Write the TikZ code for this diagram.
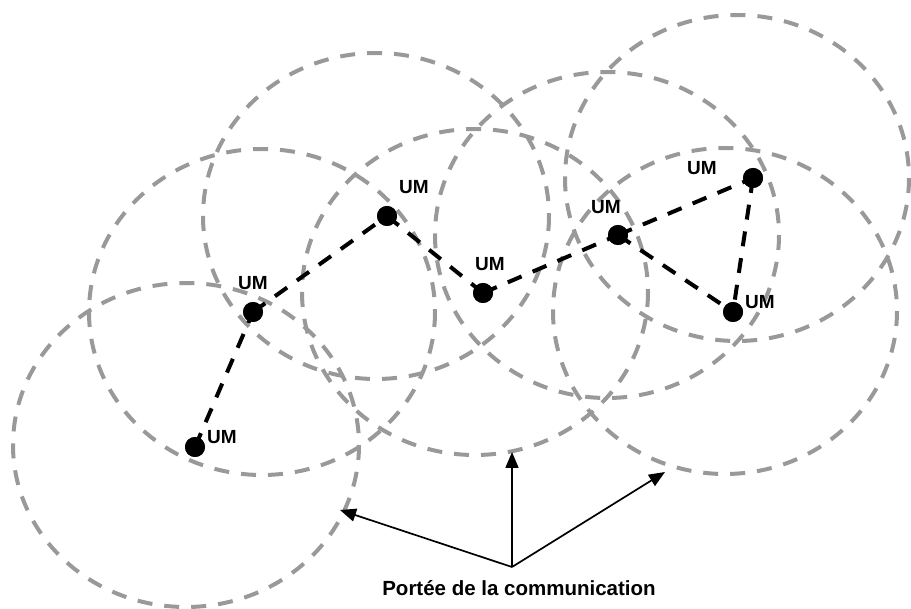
\documentclass[tikz,border=0pt]{standalone}
\usepackage{fontspec}
\setmainfont{Liberation Sans}
\usetikzlibrary{arrows.meta}
\begin{document}
\begin{tikzpicture}[x=1pt,y=-1pt,
  coverage/.style={draw=black!40, line width=4pt, dash pattern=on 15pt off 12pt},
  link/.style={draw=black, line width=4pt, dash pattern=on 15pt off 12pt},
  um/.style={circle, fill=black, minimum size=20pt, inner sep=0pt},
  umlabel/.style={font=\bfseries\fontsize{19}{21}\selectfont, inner sep=0pt},
  pointer/.style={draw=black, line width=1.7pt, -{Triangle[length=16pt,width=13pt]}}]
\useasboundingbox (0,0) rectangle (911,609);

% communication ranges
\draw[coverage] (186,445) ellipse [x radius=173, y radius=162];
\draw[coverage] (262,312) ellipse [x radius=173, y radius=163];
\draw[coverage] (376,216) ellipse [x radius=173, y radius=163];
\draw[coverage] (475,292) ellipse [x radius=173, y radius=163];
\draw[coverage] (607,235) ellipse [x radius=172, y radius=163];
\draw[coverage] (737,178) ellipse [x radius=172, y radius=163];
\draw[coverage] (725,311) ellipse [x radius=172, y radius=163];

% mobile units
\node[um] (a) at (195,447) {};
\node[um] (b) at (253,312) {};
\node[um] (c) at (387,216) {};
\node[um] (d) at (483,293) {};
\node[um] (e) at (618,235) {};
\node[um] (f) at (753,178) {};
\node[um] (g) at (733,312) {};

% links between units
\draw[link] (a.center) -- (b.center);
\draw[link] (b.center) -- (c.center);
\draw[link] (c.center) -- (d.center);
\draw[link] (d.center) -- (e.center);
\draw[link] (e.center) -- (f.center);
\draw[link] (e.center) -- (g.center);
\draw[link] (f.center) -- (g.center);

% redraw dots above the links
\foreach \n in {a,b,c,d,e,f,g} \fill (\n) circle (10);

% labels
\node[umlabel] (la) at (222,437) {UM};
\node[umlabel] (lb) at (253,283) {UM};
\node[umlabel] (lc) at (414,187) {UM};
\node[umlabel] (ld) at (490,264) {UM};
\node[umlabel] (le) at (606,207) {UM};
\node[umlabel] (lf) at (702,168) {UM};
\node[umlabel] (lg) at (760,302) {UM};

% caption and pointers
\node[font=\bfseries\fontsize{20.5}{23}\selectfont, inner sep=0pt] (cap) at (519,588) {Portée de la communication};
\coordinate (o) at (512,567);
\coordinate (t1) at (340,510);
\coordinate (t2) at (512,452);
\coordinate (t3) at (665,472);
\draw[pointer] (o) -- (t1);
\draw[pointer] (o) -- (t2);
\draw[pointer] (o) -- (t3);
\end{tikzpicture}
\end{document}
